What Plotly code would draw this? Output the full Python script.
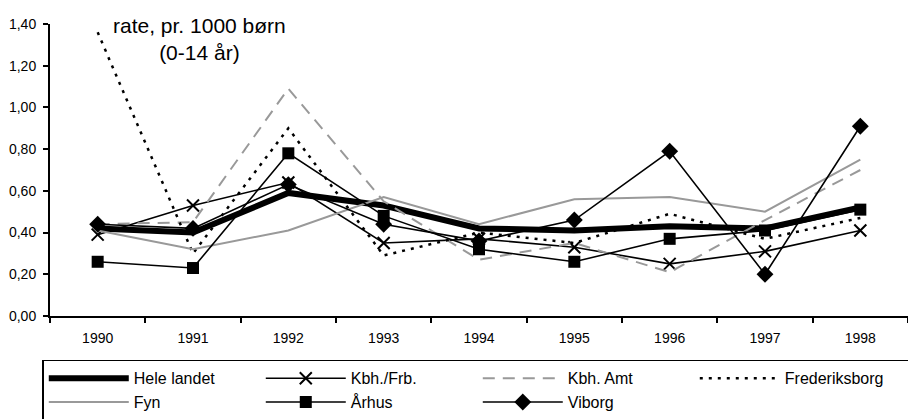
import plotly.graph_objects as go

years = ["1990", "1991", "1992", "1993", "1994", "1995", "1996", "1997", "1998"]
hele_landet = [0.42, 0.40, 0.59, 0.53, 0.42, 0.41, 0.43, 0.42, 0.52]
kbh_frb = [0.39, 0.53, 0.64, 0.35, 0.37, 0.33, 0.25, 0.31, 0.41]
kbh_amt = [0.44, 0.45, 1.09, 0.55, 0.27, 0.35, 0.21, 0.46, 0.70]
frederiksborg = [1.36, 0.30, 0.90, 0.29, 0.40, 0.35, 0.49, 0.37, 0.47]
fyn = [0.41, 0.32, 0.41, 0.57, 0.44, 0.56, 0.57, 0.50, 0.75]
aarhus = [0.26, 0.23, 0.78, 0.48, 0.32, 0.26, 0.37, 0.41, 0.51]
viborg = [0.44, 0.42, 0.63, 0.44, 0.36, 0.46, 0.79, 0.20, 0.91]

FONT = "Liberation Sans, Arial, sans-serif"
GREY = "#999999"

fig = go.Figure()
fig.add_trace(go.Scatter(x=years, y=hele_landet, name="Hele landet", mode="lines",
                         line=dict(color="black", width=6)))
fig.add_trace(go.Scatter(x=years, y=kbh_frb, name="Kbh./Frb.", mode="lines+markers",
                         line=dict(color="black", width=1.6),
                         marker=dict(symbol="x-thin-open", size=12,
                                     line=dict(color="black", width=2))))
fig.add_trace(go.Scatter(x=years, y=kbh_amt, name="Kbh. Amt", mode="lines",
                         line=dict(color=GREY, width=2, dash="12px,8px")))
fig.add_trace(go.Scatter(x=years, y=frederiksborg, name="Frederiksborg", mode="lines",
                         line=dict(color="black", width=2.5, dash="3px,6px")))
fig.add_trace(go.Scatter(x=years, y=fyn, name="Fyn", mode="lines",
                         line=dict(color=GREY, width=2)))
fig.add_trace(go.Scatter(x=years, y=aarhus, name="Århus", mode="lines+markers",
                         line=dict(color="black", width=1.6),
                         marker=dict(symbol="square", size=12, color="black")))
fig.add_trace(go.Scatter(x=years, y=viborg, name="Viborg", mode="lines+markers",
                         line=dict(color="black", width=1.6),
                         marker=dict(symbol="diamond", size=13, color="black")))

fig.update_layout(
    width=908, height=411,
    margin=dict(l=42, r=8, t=16, b=103, autoexpand=False),
    paper_bgcolor="white", plot_bgcolor="white",
    separators=",.",
    font=dict(family=FONT, color="black"),
    showlegend=True,
    legend=dict(orientation="h", x=-0.009, y=-0.15, xanchor="left", yanchor="top",
                entrywidth=122, entrywidthmode="pixels", itemwidth=80,
                bordercolor="black", borderwidth=1.5,
                font=dict(size=16, family=FONT), tracegroupgap=0),
    annotations=[dict(text="rate, pr. 1000 børn<br>(0-14 år)", xref="paper", yref="paper",
                      x=0.174, y=0.949, xanchor="center", yanchor="middle",
                      showarrow=False, font=dict(size=21, family=FONT))],
)
fig.update_xaxes(type="category", range=[-0.5, 8.5], showline=True, linecolor="black",
                 linewidth=2, ticks="outside", tickson="boundaries", ticklen=5,
                 tickwidth=2, tickcolor="black", showgrid=False, zeroline=False,
                 tickfont=dict(size=14, family=FONT), ticklabelstandoff=8)
fig.update_yaxes(range=[0, 1.4], dtick=0.2, tickformat=".2f", showline=True,
                 linecolor="black", linewidth=2, ticks="outside", ticklen=5,
                 tickwidth=2, tickcolor="black", showgrid=False, zeroline=False,
                 tickfont=dict(size=14, family=FONT), ticklabelstandoff=4)

fig.write_html("out.html")
